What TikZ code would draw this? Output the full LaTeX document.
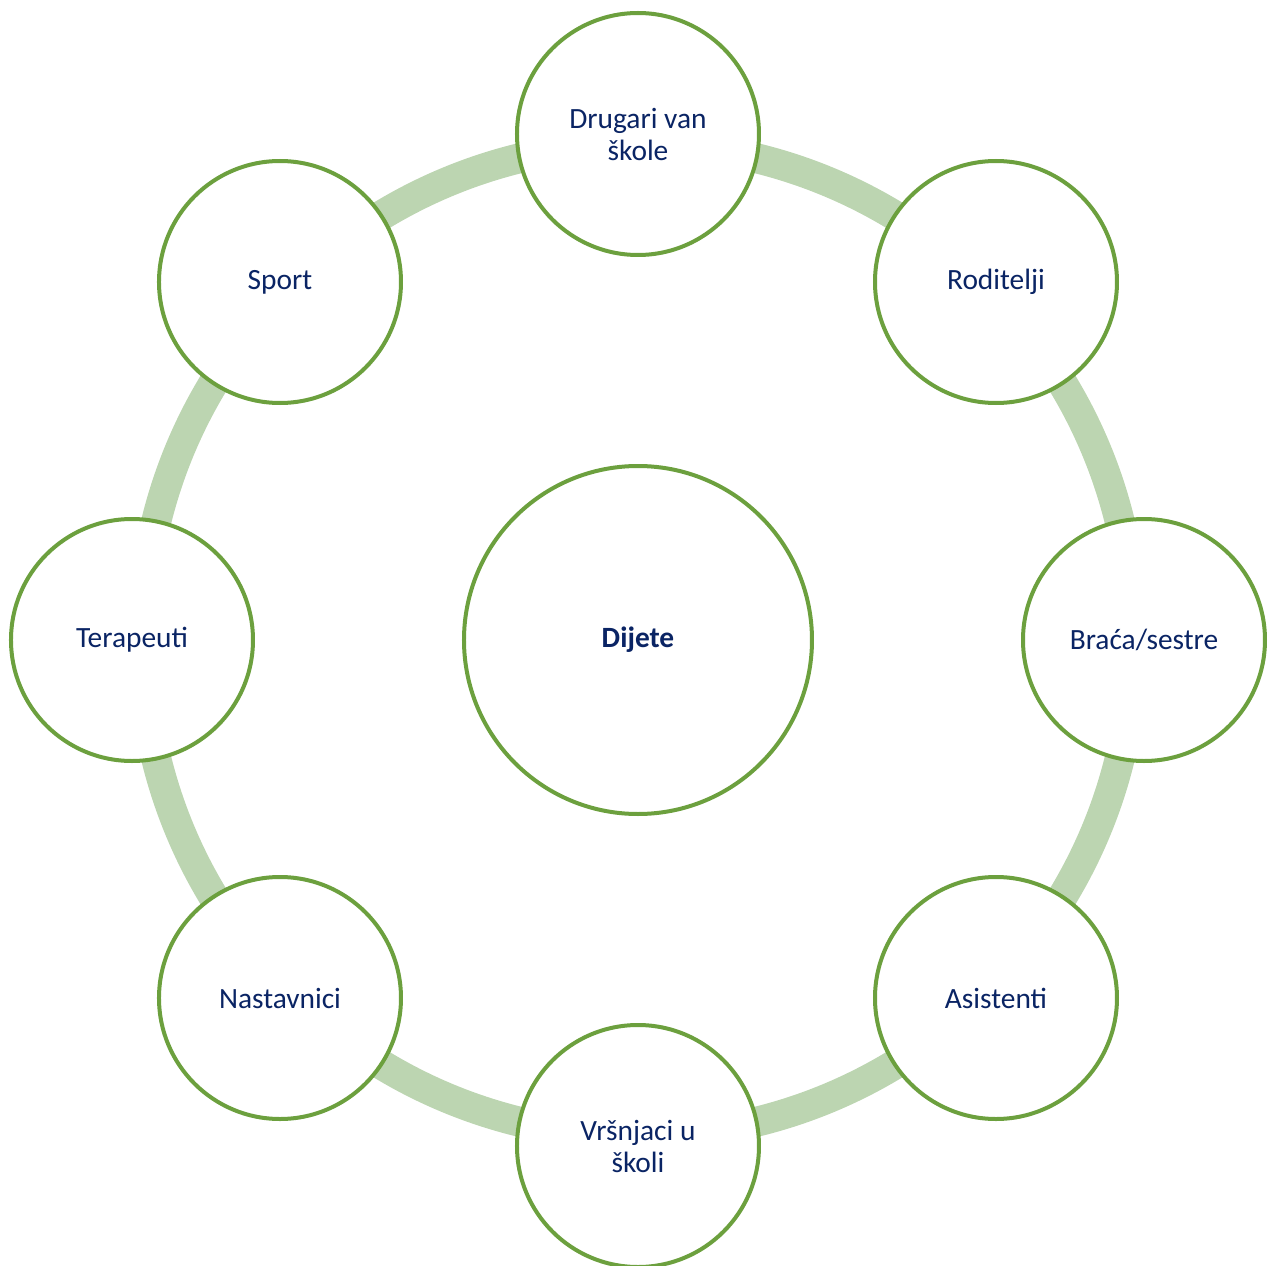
\documentclass[tikz,border=0pt]{standalone}
\usepackage{fontspec}
\setmainfont{Carlito}
\usepackage{tikz}

\definecolor{ringgreen}{RGB}{188,213,177}
\definecolor{edgegreen}{RGB}{108,160,62}
\definecolor{textblue}{RGB}{10,36,100}

\begin{document}
\begin{tikzpicture}[x=0.5pt,y=0.5pt]
        \useasboundingbox (-638,-625) rectangle (632,640);
        % ring behind the circles
        \draw[color=ringgreen,line width=15pt] (0,0) circle (248pt);
        \tikzstyle{every node}=[draw,shape=circle,color=edgegreen,fill=white,line width=2pt,text=textblue,align=center,font=\fontsize{14.7}{16}\selectfont,minimum size=121pt,inner sep=0pt]
            \node[minimum size=174pt,font=\fontsize{14.7}{16}\selectfont\bfseries] (dijete) at (0,0) {Dijete};
            \node (drugari) at (0,506) {Drugari van\\škole};
            \node (roditelji) at (358,358) {Roditelji};
            \node (braca) at (506,0) {Braća/sestre};
            \node (asistenti) at (358,-358) {Asistenti};
            \node (vrsnjaci) at (0,-506) {Vršnjaci u\\školi};
            \node (nastavnici) at (-358,-358) {Nastavnici};
            \node (terapeuti) at (-506,0) {Terapeuti};
            \node (sport) at (-358,358) {Sport};
\end{tikzpicture}
\end{document}
